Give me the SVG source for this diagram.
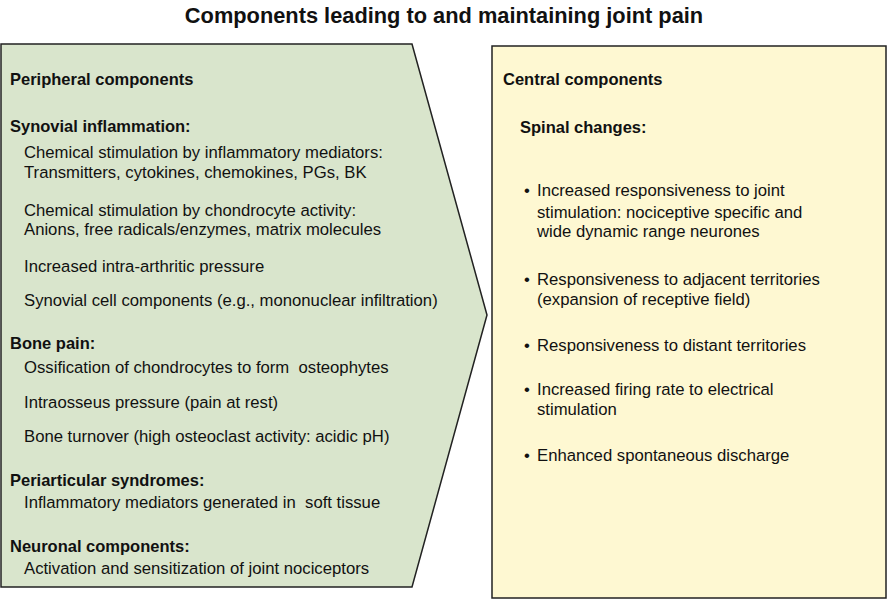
<svg xmlns="http://www.w3.org/2000/svg" width="888" height="613" viewBox="0 0 888 613">
<style>
text{font-family:"Liberation Sans",Arial,sans-serif;font-size:16.7px;fill:#111;white-space:pre}
.b{font-weight:bold;font-size:16.5px}
.t{font-weight:bold;font-size:21.8px}
</style>
<rect width="888" height="613" fill="#fff"/>
<text class="t" x="444" y="23" text-anchor="middle">Components leading to and maintaining joint pain</text>
<g id="peripheral">
<path d="M1,44 H412 L487,315 L412,587 H1 Z" fill="#d9e5cc" stroke="#222" stroke-width="1.5"/>
<text class="b" x="10" y="85">Peripheral components</text>
<text class="b" x="10" y="132">Synovial inflammation:</text>
<text x="24" y="158">Chemical stimulation by inflammatory mediators:</text>
<text x="24" y="178">Transmitters, cytokines, chemokines, PGs, BK</text>
<text x="24" y="216">Chemical stimulation by chondrocyte activity:</text>
<text x="24" y="235">Anions, free radicals/enzymes, matrix molecules</text>
<text x="24" y="272">Increased intra-arthritic pressure</text>
<text x="24" y="306">Synovial cell components (e.g., mononuclear infiltration)</text>
<text class="b" x="10" y="349">Bone pain:</text>
<text x="24" y="373" xml:space="preserve">Ossification of chondrocytes to form  osteophytes</text>
<text x="24" y="408">Intraosseus pressure (pain at rest)</text>
<text x="24" y="442">Bone turnover (high osteoclast activity: acidic pH)</text>
<text class="b" x="10" y="486">Periarticular syndromes:</text>
<text x="24" y="508" xml:space="preserve">Inflammatory mediators generated in  soft tissue</text>
<text class="b" x="10" y="552">Neuronal components:</text>
<text x="24" y="574">Activation and sensitization of joint nociceptors</text>
</g>
<g id="central">
<rect x="492" y="46" width="394" height="552" fill="#fef8d2" stroke="#222" stroke-width="1.5"/>
<text class="b" x="503" y="85">Central components</text>
<text class="b" x="520" y="133">Spinal changes:</text>
<text x="524" y="196">•</text>
<text x="537" y="196">Increased responsiveness to joint</text>
<text x="537" y="218">stimulation: nociceptive specific and</text>
<text x="537" y="237">wide dynamic range neurones</text>
<text x="524" y="285">•</text>
<text x="537" y="285">Responsiveness to adjacent territories</text>
<text x="537" y="305">(expansion of receptive field)</text>
<text x="524" y="351">•</text>
<text x="537" y="351">Responsiveness to distant territories</text>
<text x="524" y="395">•</text>
<text x="537" y="395">Increased firing rate to electrical</text>
<text x="537" y="415">stimulation</text>
<text x="524" y="461">•</text>
<text x="537" y="461">Enhanced spontaneous discharge</text>
</g>
<g id="connectors"/>
</svg>
